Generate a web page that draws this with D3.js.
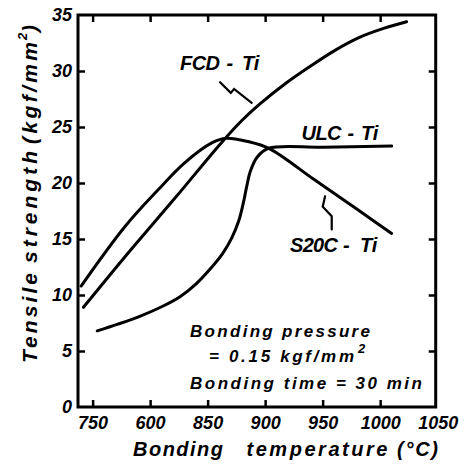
<!DOCTYPE html>
<html><head><meta charset="utf-8">
<script src="https://cdn.jsdelivr.net/npm/d3@7"></script>
<style>
html,body{margin:0;padding:0;background:#fff;}
svg{display:block;}
text{font-family:"Liberation Sans",Arial,sans-serif;font-weight:bold;font-style:italic;fill:#000;}
</style></head><body>
<svg id="chart" width="471" height="464"></svg>
<script>
// ---- data ----
const xTickValues = [750, 800, 850, 900, 950, 1000, 1050];
const xTickLabels = ["750", "600", "850", "900", "950", "1000", "1050"];
const yTickValues = [0, 5, 10, 15, 20, 25, 30, 35];
const yTickLabels = ["0", "5", "10", "15", "20", "25", "30", "35"];
const seriesNames = ["FCD-Ti", "ULC-Ti", "S20C-Ti"];

const fcdTemp     = [742, 778, 822, 862, 880, 896, 918, 939, 960, 982, 1003, 1023];
const fcdStrength = [8.9, 13.4, 18.7, 23.6, 25.6, 27.1, 28.9, 30.4, 31.8, 33.0, 33.8, 34.4];

const ulcTemp     = [754, 772, 791, 810, 826, 840, 852, 863, 871, 877, 881, 884, 887, 893, 903, 950, 1010];
const ulcStrength = [6.8, 7.4, 8.1, 8.95, 9.85, 11.0, 12.3, 13.7, 15.1, 16.6, 18.2, 19.7, 21.0, 22.3, 23.1, 23.2, 23.3];

const s20cTemp     = [740, 778, 807, 830, 854, 866, 885, 904, 942, 980, 1010];
const s20cStrength = [10.8, 16.1, 19.4, 21.8, 23.6, 24.0, 23.7, 23.05, 20.35, 17.65, 15.5];

// leader squiggles (data units)
const fcdLeaderTemp = [860.8, 870.1, 873.0, 888.3];
const fcdLeaderStrength = [29.0, 28.05, 28.4, 27.16];
const s20cLeaderTemp = [952.1, 950.1, 957.9, 957.9];
const s20cLeaderStrength = [18.82, 17.88, 17.04, 15.85];

const noteLines = ["Bonding pressure", "= 0.15 kgf/mm", "Bonding time = 30 min"];

// ---- chart ----
const svg = d3.select("#chart");
const x = d3.scaleLinear().domain([737.3, 1048.3]).range([78, 435.7]);
const y = d3.scaleLinear().domain([0, 35]).range([407, 15]);
const [x0, x1] = x.range();
const [yb, yt] = y.range();

function fit(sel, w) {
  sel.style("letter-spacing", "0px");
  const n = sel.node();
  const len = n.getComputedTextLength();
  const c = n.textContent.length;
  if (c > 1) sel.style("letter-spacing", ((w - len) / (c - 1)) + "px");
}

// axes
const gx = svg.append("g").attr("transform", `translate(0,${yb})`)
  .call(d3.axisBottom(x).tickValues(xTickValues).tickFormat((d, i) => xTickLabels[i])
    .tickSizeInner(-7).tickSizeOuter(0).tickPadding(9));
gx.select(".domain").remove();
gx.selectAll(".tick").filter(d => d === 1050).select("line").remove();
gx.attr("font-size", 18);

const gy = svg.append("g").attr("transform", `translate(${x0},0)`)
  .call(d3.axisLeft(y).tickValues(yTickValues).tickFormat((d, i) => yTickLabels[i])
    .tickSizeInner(-7).tickSizeOuter(0).tickPadding(6));
gy.select(".domain").remove();
gy.selectAll(".tick").filter(d => d === 0 || d === 35).select("line").remove();
gy.attr("font-size", 18);

const gt = svg.append("g").attr("transform", `translate(0,${yt})`)
  .call(d3.axisTop(x).tickValues(xTickValues.filter(d => d < 1050)).tickFormat("")
    .tickSizeInner(-7).tickSizeOuter(0));
gt.select(".domain").remove();

const gr = svg.append("g").attr("transform", `translate(${x1},0)`)
  .call(d3.axisRight(y).tickValues(yTickValues.filter(d => d > 0 && d < 35)).tickFormat("")
    .tickSizeInner(-7).tickSizeOuter(0));
gr.select(".domain").remove();

svg.selectAll(".tick line").attr("stroke", "#000").attr("stroke-width", 2.5);

// frame
svg.append("rect").attr("x", x0).attr("y", yt).attr("width", x1 - x0).attr("height", yb - yt)
  .attr("fill", "none").attr("stroke", "#000").attr("stroke-width", 3);

// curves
const line = d3.line().x(d => x(d[0])).y(d => y(d[1])).curve(d3.curveCatmullRom.alpha(0.5));
const series = [
  d3.zip(fcdTemp, fcdStrength),
  d3.zip(ulcTemp, ulcStrength),
  d3.zip(s20cTemp, s20cStrength)
];
svg.append("g").selectAll("path").data(series).join("path")
  .attr("d", line).attr("fill", "none").attr("stroke", "#000")
  .attr("stroke-width", 3).attr("stroke-linecap", "round").attr("stroke-linejoin", "round");

const lline = d3.line().x(d => x(d[0])).y(d => y(d[1]));
svg.append("g").selectAll("path").data([
  d3.zip(fcdLeaderTemp, fcdLeaderStrength),
  d3.zip(s20cLeaderTemp, s20cLeaderStrength)
]).join("path").attr("d", lline).attr("fill", "none").attr("stroke", "#000")
  .attr("stroke-width", 2.2).attr("stroke-linejoin", "miter").attr("stroke-linecap", "round");

// series labels
function seriesLabel(name, baseline, xs, w0) {
  const parts = name.split("-");
  const t = svg.append("text").attr("y", baseline).attr("font-size", 20);
  const a = t.append("tspan").attr("x", xs[0]).text(parts[0]);
  fit(a, w0);
  t.append("tspan").attr("x", xs[1]).text("-");
  t.append("tspan").attr("x", xs[2]).text(parts[1]);
}
seriesLabel(seriesNames[0], 70, [180, 226.5, 242], 40);
seriesLabel(seriesNames[1], 140, [301.5, 347.5, 361], 40);
seriesLabel(seriesNames[2], 251.5, [290, 343, 360], 48);

// notes
const n1 = svg.append("text").attr("x", 190).attr("y", 337).attr("font-size", 17).text(noteLines[0]);
fit(n1, 180);
const n2 = svg.append("text").attr("y", 361.5).attr("font-size", 17);
const n2a = n2.append("tspan").attr("x", 209).text(noteLines[1]);
fit(n2a, 145);
n2.append("tspan").attr("x", 358).attr("y", 353).attr("font-size", 13).text("2");
const n3 = svg.append("text").attr("x", 190).attr("y", 389).attr("font-size", 17).text(noteLines[2]);
fit(n3, 232);

// x title
const xt = svg.append("text").attr("y", 456).attr("font-size", 20);
[["Bonding ", 133, 90], ["temperature ", 246.5, 141], ["(°C)", 397, 41]].forEach(([s, px, w]) => {
  const tsp = xt.append("tspan").attr("x", px).text(s.trim());
  fit(tsp, w);
});

// y title (rotated)
const ytg = svg.append("text").attr("transform", "rotate(-90)").attr("y", 37).attr("font-size", 21);
[["Tensile", -363, 90], ["strength", -263, 112], ["(kgf/mm", -144, 102]].forEach(([s, px, w]) => {
  const tsp = ytg.append("tspan").attr("x", px).attr("y", 37).text(s);
  fit(tsp, w);
});
ytg.append("tspan").attr("x", -40).attr("y", 27).attr("font-size", 13).text("2");
ytg.append("tspan").attr("x", -32).attr("y", 37).text(")");
</script>
</body></html>
